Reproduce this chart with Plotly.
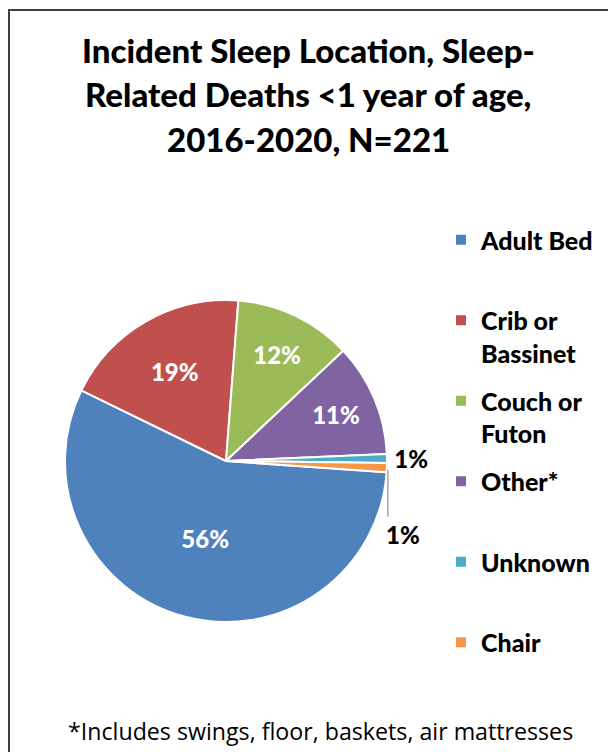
import math
import plotly.graph_objects as go

# Data
categories = ["Adult Bed", "Crib or Bassinet", "Couch or Futon", "Other*", "Unknown", "Chair"]
legend_labels = ["Adult Bed<br>\u00a0", "Crib or<br>Bassinet", "Couch or<br>Futon",
                 "Other*<br>\u00a0", "Unknown<br>\u00a0", "Chair<br>\u00a0"]
counts = [124, 42, 26, 25, 2, 2]
colors = ["#4F81BD", "#C0504D", "#9BBB59", "#8064A2", "#4BACC6", "#F79646"]
title_lines = ["Incident Sleep Location, Sleep-", "Related Deaths <1 year of age,", "2016-2020, N=221"]
footnote = "*Includes swings, floor, baskets, air mattresses"

# page has an 8px body margin; figure is sized to fit the 616x752 window
OFF = 8
W, H = 616 - OFF, 752 - OFF
cx, cy, r = 226 - OFF, 461 - OFF, 161
ROT = 94

def px(x):
    return x / W

def py(y):
    return 1 - y / H

BOLD = dict(family="Lato", weight=900)

text_pos = ["inside", "inside", "inside", "inside", "outside", "none"]

fig = go.Figure()
fig.add_trace(go.Pie(
    labels=categories,
    values=counts,
    sort=False,
    direction="clockwise",
    rotation=ROT,
    showlegend=False,
    marker=dict(colors=colors, line=dict(color="white", width=2)),
    texttemplate="%{percent:.0%}",
    textposition=text_pos,
    insidetextorientation="horizontal",
    insidetextfont=dict(size=24, color="white", **BOLD),
    outsidetextfont=dict(size=24, color="black", **BOLD),
    hovertemplate="%{label}: %{value} (%{percent})<extra></extra>",
    domain=dict(x=[px(cx - r), px(cx + r)], y=[py(cy + r), py(cy - r)]),
))

# legend entries (one per category, so the legend can space them like the original)
for cat, lab, col in zip(categories, legend_labels, colors):
    fig.add_trace(go.Scatter(
        x=[None], y=[None], mode="markers", name=lab, legendgroup=cat,
        marker=dict(symbol="square", size=10, color=col), hoverinfo="skip"))

annotations = []
for i, line in enumerate(title_lines):
    annotations.append(dict(
        text=line, xref="paper", yref="paper", x=px(308 - OFF), y=py(50 - OFF + 44.5 * i),
        xanchor="center", yanchor="middle", showarrow=False,
        font=dict(size=33, color="black", **BOLD)))
annotations.append(dict(
    text=footnote, xref="paper", yref="paper", x=px(320 - OFF), y=py(731 - OFF),
    xanchor="center", yanchor="middle", showarrow=False,
    font=dict(family="Open Sans", size=23.2, color="black")))

# outside label for the last (Chair) slice, with a vertical leader line
total = sum(counts)
start = sum(counts[:-1]) / total * 360 + ROT
mid = math.radians(start + counts[-1] / total * 180)
ex, ey = cx + r * math.sin(mid), cy - r * math.cos(mid)
chair_pct = f"{round(100 * counts[-1] / total)}%"
annotations.append(dict(
    text=chair_pct, xref="paper", yref="paper", x=px(ex - 3), y=py(ey + 67),
    xanchor="left", yanchor="middle", showarrow=False,
    font=dict(size=24, color="black", **BOLD)))

shapes = [
    dict(type="rect", xref="paper", yref="paper", x0=px(1), x1=1.05, y0=-0.05, y1=py(10 - OFF),
         line=dict(color="#404040", width=2), fillcolor="rgba(0,0,0,0)", layer="below"),
    dict(type="line", xref="paper", yref="paper", x0=px(ex + 1), x1=px(ex + 1), y0=py(ey + 2), y1=py(ey + 49),
         line=dict(color="#A6A6A6", width=1.5)),
]

fig.update_layout(
    width=W, height=H,
    margin=dict(l=0, r=0, t=0, b=0),
    paper_bgcolor="white",
    plot_bgcolor="white",
    xaxis=dict(visible=False),
    yaxis=dict(visible=False),
    showlegend=True,
    legend=dict(x=px(481 - OFF - 40), xanchor="left", y=py(209), yanchor="top",
                valign="top", traceorder="grouped", tracegroupgap=12.5,
                font=dict(size=25, color="black", **BOLD),
                bgcolor="rgba(0,0,0,0)"),
    annotations=annotations,
    shapes=shapes,
)

fig.write_html("out.html")
